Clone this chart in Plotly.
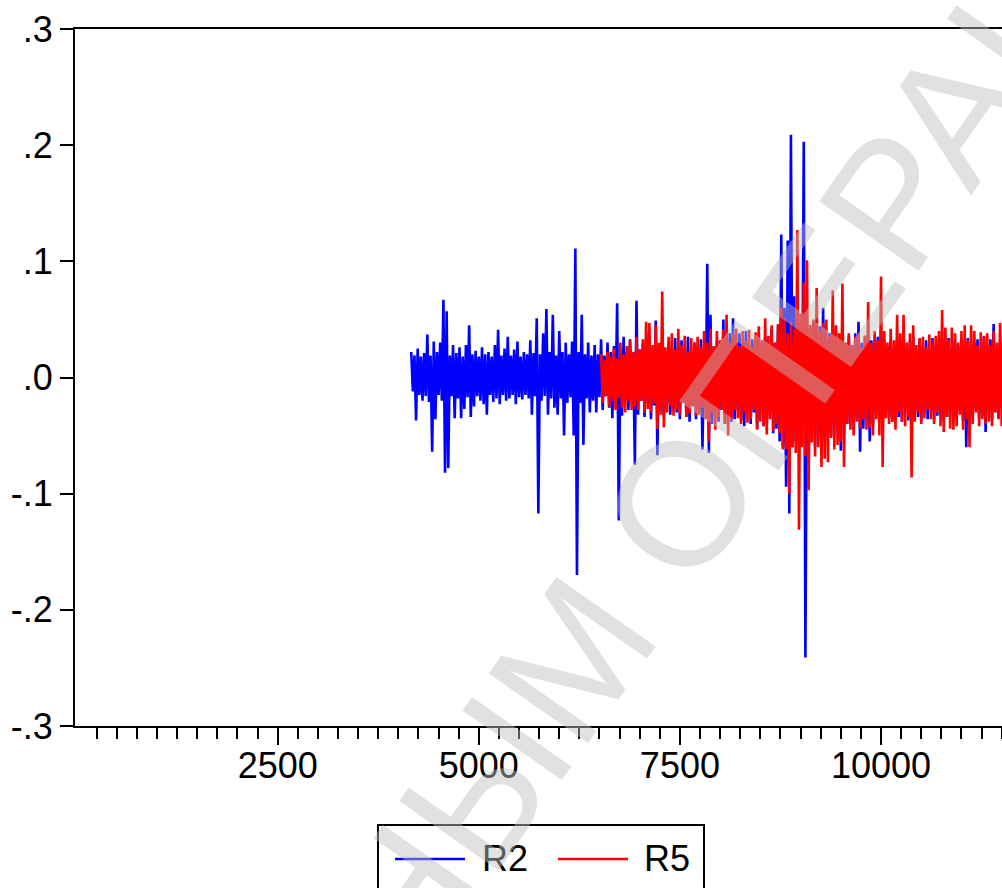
import plotly.graph_objects as go

bin_width = 40
r2_start = 4160
r5_start = 6520

r2_hi = [22, 19, 25, 18, 21, 37, 19, 31, 22, 30,
         67, 57, 19, 28, 21, 26, 18, 28, 45, 20,
         23, 18, 26, 20, 22, 18, 28, 41, 19, 25,
         35, 19, 24, 31, 18, 22, 20, 32, 21, 51,
         20, 38, 59, 22, 54, 19, 40, 22, 30, 20,
         31, 111, 22, 54, 20, 30, 19, 28, 20, 33,
         19, 30, 22, 27, 64, 20, 35, 22, 33, 22,
         66, 24, 30, 20, 35, 22, 49, 25, 33, 21,
         30, 22, 34, 20, 32, 24, 35, 21, 30, 26,
         33, 22, 98, 54, 25, 32, 20, 50, 24, 38,
         51, 26, 38, 24, 40, 28, 33, 22, 38, 30,
         36, 25, 42, 30, 45, 123, 60, 118, 209, 70,
         50, 34, 203, 40, 45, 48, 30, 44, 60, 32,
         38, 26, 40, 30, 35, 24, 36, 28, 38, 48,
         30, 36, 24, 32, 28, 35, 22, 33, 27, 32,
         24, 33, 28, 34, 22, 32, 35, 25, 33, 26,
         32, 24, 34, 28, 33, 22, 32, 34, 25, 33,
         27, 33, 24, 34, 28, 30, 33, 24, 35, 28,
         33, 46, 25, 30, 34]

r2_lo = [-12, -37, -15, -20, -16, -21, -64, -36, -15, -20,
         -82, -78, -16, -35, -18, -35, -27, -17, -34, -25,
         -16, -20, -23, -32, -15, -21, -18, -23, -15, -20,
         -18, -15, -23, -17, -19, -15, -18, -32, -16, -117,
         -20, -16, -32, -18, -26, -32, -18, -50, -22, -17,
         -50, -170, -22, -58, -18, -30, -20, -30, -17, -28,
         -16, -26, -35, -18, -123, -33, -20, -28, -18, -75,
         -32, -20, -34, -22, -36, -24, -67, -28, -34, -22,
         -32, -25, -30, -36, -22, -34, -38, -24, -36, -28,
         -62, -26, -65, -40, -24, -38, -28, -40, -26, -38,
         -36, -28, -37, -42, -26, -40, -30, -44, -28, -42,
         -40, -30, -48, -44, -55, -60, -94, -117, -60, -55,
         -50, -35, -241, -58, -40, -60, -38, -55, -42, -48,
         -50, -32, -46, -63, -36, -40, -30, -45, -34, -64,
         -44, -34, -55, -40, -30, -36, -40, -28, -35, -38,
         -28, -34, -38, -26, -37, -33, -28, -34, -38, -26,
         -36, -28, -37, -33, -26, -38, -34, -27, -33, -35,
         -28, -37, -60, -30, -34, -27, -35, -33, -47, -28,
         -36, -30, -35, -26, -36]

r5_hi = [20, 15, 22, 18, 25, 16, 30, 20, 27, 32,
         22, 35, 24, 33, 48, 47, 28, 45, 30, 74,
         26, 35, 38, 24, 42, 28, 36, 22, 34, 30,
         35, 26, 40, 30, 42, 27, 40, 32, 41, 54,
         30, 38, 42, 27, 40, 31, 41, 26, 39, 44,
         32, 51, 36, 45, 30, 46, 60, 51, 38, 48,
         42, 127, 55, 82, 101, 45, 50, 77, 40, 47,
         50, 36, 75, 45, 38, 81, 30, 38, 28, 35,
         38, 26, 36, 65, 30, 40, 32, 87, 40, 30,
         42, 32, 54, 38, 54, 30, 38, 45, 28, 34,
         35, 26, 37, 30, 36, 40, 58, 43, 32, 43,
         38, 30, 40, 45, 32, 45, 40, 28, 39, 36,
         38, 28, 40, 30, 47, 38]

r5_lo = [-22, -16, -25, -20, -28, -18, -26, -30, -20, -28,
         -25, -28, -20, -30, -27, -30, -22, -44, -32, -43,
         -30, -24, -33, -28, -32, -22, -34, -31, -25, -33,
         -32, -26, -36, -55, -30, -45, -34, -28, -40, -50,
         -36, -28, -35, -40, -30, -39, -36, -28, -45, -38,
         -42, -49, -36, -46, -40, -48, -62, -62, -100, -60,
         -65, -131, -60, -68, -97, -56, -68, -60, -77, -70,
         -73, -52, -62, -58, -55, -77, -40, -45, -50, -38,
         -44, -36, -45, -43, -50, -36, -50, -77, -35, -40,
         -38, -45, -30, -38, -42, -34, -86, -38, -30, -40,
         -35, -28, -36, -40, -30, -42, -47, -34, -44, -45,
         -42, -32, -45, -36, -60, -40, -30, -42, -36, -40,
         -38, -42, -30, -36, -42, -40]

x_tick_vals = [2500, 5000, 7500, 10000]
x_tick_text = ["2500", "5000", "7500", "10000"]
x_minor_vals = [250 * k for k in range(1, 48) if k % 10 != 0]
y_tick_vals = [-0.3, -0.2, -0.1, 0.0, 0.1, 0.2, 0.3]
y_tick_text = ["-.3", "-.2", "-.1", ".0", ".1", ".2", ".3"]

series_names = ["R2", "R5"]
series_colors = ["#0000FF", "#FF0000"]


def zigzag(start, hi, lo):
    xs, ys = [], []
    for k, (h, l) in enumerate(zip(hi, lo)):
        x = start + bin_width * k
        xs += [x, x + bin_width / 2]
        ys += [h / 1000.0, l / 1000.0]
    return xs, ys


FONT = "Arial, Liberation Sans, sans-serif"
fig = go.Figure()
for name, color, start, hi, lo in [
    (series_names[0], series_colors[0], r2_start, r2_hi, r2_lo),
    (series_names[1], series_colors[1], r5_start, r5_hi, r5_lo),
]:
    xs, ys = zigzag(start, hi, lo)
    fig.add_trace(go.Scatter(x=xs, y=ys, mode="lines", name=name,
                             line=dict(color=color, width=2.6, simplify=False),
                             showlegend=False, hoverinfo="skip"))

W, H = 1002, 888
ml, mr, mt, mb = 75, 0, 29, 162
pw, ph = W - ml - mr, H - mt - mb


def px2x(px):
    return (px - ml) / pw


def py2y(py):
    return (H - mb - py) / ph


fig.update_layout(
    width=W, height=H,
    margin=dict(l=ml, r=mr, t=mt, b=mb, pad=0),
    paper_bgcolor="white", plot_bgcolor="white",
    font=dict(family=FONT, size=36, color="black"),
    xaxis=dict(range=[-20, 11504], showgrid=False, zeroline=False,
               showline=True, linecolor="black", linewidth=2, mirror=True,
               tickmode="array", tickvals=x_tick_vals, ticktext=x_tick_text,
               ticks="outside", ticklen=17, tickwidth=2, tickcolor="black",
               ticklabelstandoff=-10,
               tickfont=dict(size=36, family=FONT, color="black"),
               minor=dict(tickmode="array", tickvals=x_minor_vals, ticks="outside",
                          ticklen=11, tickwidth=2, tickcolor="black")),
    yaxis=dict(range=[-0.3, 0.3], showgrid=False, zeroline=False,
               showline=True, linecolor="black", linewidth=2, mirror=False,
               tickmode="array", tickvals=y_tick_vals, ticktext=y_tick_text,
               ticks="outside", ticklen=13, tickwidth=2, tickcolor="black",
               ticklabelstandoff=0,
               tickfont=dict(size=36, family=FONT, color="black")),
)

# legend box drawn by hand (EViews style: long line samples)
shapes = [dict(type="rect", xref="paper", yref="paper",
               x0=px2x(378), x1=px2x(704), y0=py2y(825), y1=py2y(905),
               line=dict(color="black", width=2), fillcolor="white", layer="above")]
legend_items = [(395, 465, 480), (558, 628, 642)]
annotations = []
for (lx0, lx1, tx), name, color in zip(legend_items, series_names, series_colors):
    shapes.append(dict(type="line", xref="paper", yref="paper",
                       x0=px2x(lx0), x1=px2x(lx1), y0=py2y(859), y1=py2y(859),
                       line=dict(color=color, width=2.6), layer="above"))
    annotations.append(dict(text=name, xref="paper", yref="paper",
                            x=px2x(tx), y=py2y(858), xanchor="left", yanchor="middle",
                            showarrow=False, font=dict(size=36, family=FONT, color="black")))

# watermark
annotations.append(dict(text="НЫМ ОПЕРАЦ", xref="paper", yref="paper",
                        x=px2x(715), y=py2y(455), xanchor="center", yanchor="middle",
                        textangle=-55, showarrow=False,
                        font=dict(size=176, family=FONT,
                                  color="rgba(191,191,191,0.47)")))

fig.update_layout(shapes=shapes, annotations=annotations)
fig.write_html("out.html")
